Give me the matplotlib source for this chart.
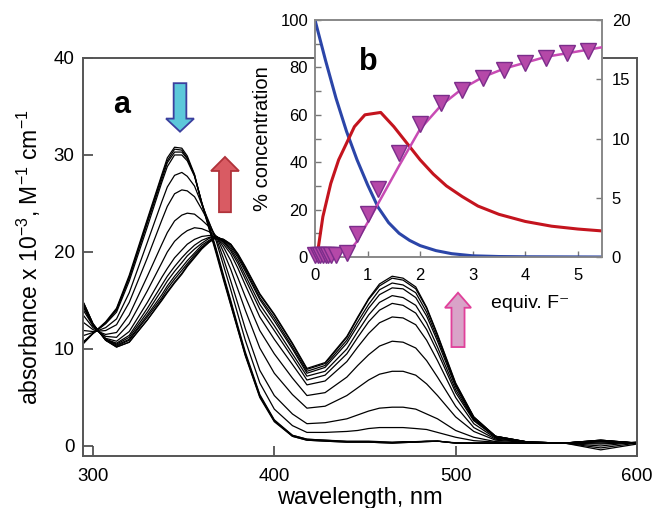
import matplotlib.pyplot as plt
from matplotlib.patches import FancyArrow
from matplotlib.ticker import MultipleLocator

plt.rcParams['font.family'] = ['Liberation Sans', 'DejaVu Sans']
plt.rcParams['mathtext.fontset'] = 'custom'
plt.rcParams['mathtext.rm'] = 'Liberation Sans'
plt.rcParams['mathtext.default'] = 'regular'

# --- main panel: titration spectra (absorbance x 1e-3) ---
wavelength = [295, 300, 307, 313, 320, 330, 338, 341, 345, 349, 352, 356, 360, 364, 368, 372,
              376, 380, 384, 392, 400, 410, 418, 428, 440, 446, 452, 458, 465, 471, 478, 484,
              490, 500, 510, 522, 540, 560, 580, 600]

spec_00 = [10.6, 11.6, 12.8, 14.2, 17.6, 23.4, 28.0, 29.7, 30.8, 30.7, 29.9, 28.0, 25.0, 22.4,
           19.8, 17.1, 14.5, 11.9, 9.3, 5.0, 2.5, 1.0, 0.6, 0.5, 0.4, 0.4, 0.4, 0.35, 0.3, 0.35,
           0.4, 0.45, 0.5, 0.3, 0.3, 0.3, 0.3, 0.3, 0.6, 0.3]
spec_01 = [10.7, 11.6, 12.7, 14.1, 17.4, 23.2, 27.8, 29.4, 30.6, 30.5, 29.7, 27.9, 25.0, 22.5,
           20.0, 17.3, 14.6, 12.0, 9.4, 5.1, 2.6, 1.0, 0.6, 0.5, 0.4, 0.4, 0.4, 0.35, 0.3, 0.35,
           0.4, 0.45, 0.5, 0.3, 0.3, 0.3, 0.3, 0.3, 0.6, 0.3]
spec_02 = [10.7, 11.6, 12.7, 14.0, 17.3, 23.0, 27.5, 29.2, 30.3, 30.3, 29.6, 27.9, 25.1, 22.6,
           20.1, 17.4, 14.8, 12.1, 9.5, 5.2, 2.6, 1.1, 0.7, 0.6, 0.45, 0.45, 0.45, 0.4, 0.35, 0.4,
           0.4, 0.5, 0.5, 0.3, 0.3, 0.3, 0.3, 0.3, 0.55, 0.3]
spec_03 = [10.8, 11.6, 12.6, 13.8, 17.0, 22.6, 27.2, 28.8, 30.0, 30.0, 29.4, 27.8, 25.1, 22.8,
           20.3, 17.6, 15.0, 12.3, 9.7, 5.3, 2.7, 1.1, 0.7, 0.6, 0.5, 0.5, 0.5, 0.45, 0.4, 0.45,
           0.45, 0.5, 0.5, 0.33, 0.3, 0.3, 0.3, 0.3, 0.55, 0.3]
spec_04 = [11.4, 11.7, 12.2, 13.1, 15.8, 21.0, 25.2, 26.7, 27.9, 28.2, 27.8, 26.8, 24.9, 23.1,
           21.1, 18.6, 16.1, 13.5, 10.9, 6.5, 3.8, 2.1, 1.4, 1.4, 1.5, 1.6, 1.8, 1.9, 1.9, 1.9,
           1.8, 1.7, 1.4, 0.9, 0.55, 0.4, 0.3, 0.3, 0.6, 0.3]
spec_05 = [11.9, 11.8, 11.9, 12.5, 14.8, 19.4, 23.3, 24.7, 26.0, 26.4, 26.3, 25.7, 24.4, 23.0,
           21.4, 19.3, 17.0, 14.6, 12.1, 7.8, 5.2, 3.3, 2.3, 2.4, 2.8, 3.2, 3.6, 3.9, 4.0, 4.0,
           3.8, 3.3, 2.8, 1.6, 0.9, 0.45, 0.3, 0.3, 0.55, 0.3]
spec_06 = [12.7, 12.0, 11.5, 11.7, 13.5, 17.5, 20.8, 22.0, 23.2, 23.8, 24.0, 23.9, 23.3, 22.6,
           21.6, 20.0, 18.2, 16.1, 14.0, 10.1, 7.5, 5.3, 3.9, 4.1, 5.2, 6.0, 6.8, 7.4, 7.7, 7.7,
           7.3, 6.4, 5.2, 3.0, 1.5, 0.6, 0.35, 0.3, 0.5, 0.3]
spec_07 = [13.4, 12.2, 11.3, 11.2, 12.6, 16.0, 18.9, 20.0, 21.1, 21.8, 22.2, 22.5, 22.4, 22.1,
           21.6, 20.5, 19.1, 17.3, 15.4, 11.9, 9.5, 7.0, 5.2, 5.5, 7.1, 8.3, 9.4, 10.3, 10.8, 10.7,
           10.1, 8.8, 7.1, 4.1, 1.9, 0.7, 0.4, 0.3, 0.5, 0.3]
spec_08 = [13.9, 12.4, 11.1, 10.8, 11.8, 14.8, 17.4, 18.3, 19.4, 20.2, 20.8, 21.3, 21.6, 21.7,
           21.6, 20.8, 19.8, 18.3, 16.6, 13.3, 11.0, 8.4, 6.3, 6.7, 8.7, 10.2, 11.6, 12.7, 13.3, 13.2,
           12.5, 10.9, 8.8, 5.0, 2.3, 0.8, 0.4, 0.3, 0.5, 0.3]
spec_09 = [14.2, 12.4, 11.0, 10.6, 11.4, 14.2, 16.6, 17.5, 18.5, 19.4, 20.0, 20.7, 21.2, 21.5,
           21.6, 21.0, 20.1, 18.8, 17.2, 14.1, 11.9, 9.1, 6.8, 7.3, 9.5, 11.2, 12.8, 14.0, 14.7, 14.5,
           13.7, 12.0, 9.7, 5.5, 2.6, 0.9, 0.4, 0.3, 0.4, 0.3]
spec_10 = [14.3, 12.5, 11.0, 10.5, 11.2, 13.8, 16.1, 17.0, 18.0, 18.9, 19.6, 20.3, 20.9, 21.4,
           21.6, 21.1, 20.3, 19.1, 17.6, 14.6, 12.4, 9.5, 7.2, 7.7, 10.0, 11.8, 13.5, 14.8, 15.5, 15.3,
           14.5, 12.7, 10.2, 5.8, 2.7, 0.9, 0.4, 0.3, 0.3, 0.3]
spec_11 = [14.5, 12.5, 11.0, 10.4, 11.0, 13.5, 15.6, 16.5, 17.5, 18.4, 19.1, 19.9, 20.7, 21.2,
           21.6, 21.2, 20.5, 19.4, 18.0, 15.1, 12.9, 10.0, 7.5, 8.1, 10.6, 12.4, 14.2, 15.6, 16.3, 16.2,
           15.3, 13.4, 10.8, 6.1, 2.8, 1.0, 0.4, 0.3, 0.2, 0.4]
spec_12 = [14.6, 12.6, 10.9, 10.3, 10.9, 13.3, 15.3, 16.2, 17.2, 18.1, 18.8, 19.7, 20.5, 21.1,
           21.6, 21.2, 20.7, 19.6, 18.2, 15.3, 13.2, 10.2, 7.7, 8.3, 10.9, 12.8, 14.6, 16.1, 16.8, 16.6,
           15.8, 13.8, 11.1, 6.3, 2.9, 1.0, 0.4, 0.3, 0.0, 0.4]
spec_13 = [14.7, 12.6, 10.9, 10.2, 10.7, 13.0, 15.1, 15.9, 16.9, 17.8, 18.6, 19.5, 20.4, 21.0,
           21.5, 21.3, 20.8, 19.7, 18.4, 15.6, 13.5, 10.5, 7.9, 8.5, 11.2, 13.2, 15.1, 16.5, 17.3, 17.1,
           16.2, 14.2, 11.4, 6.4, 3.0, 1.0, 0.4, 0.3, -0.2, 0.3]
spec_14 = [14.7, 12.6, 10.9, 10.2, 10.7, 13.0, 15.0, 15.8, 16.8, 17.7, 18.5, 19.4, 20.3, 21.0,
           21.5, 21.3, 20.8, 19.8, 18.5, 15.7, 13.6, 10.6, 8.0, 8.6, 11.3, 13.3, 15.2, 16.7, 17.5, 17.3,
           16.4, 14.3, 11.5, 6.5, 3.0, 1.0, 0.4, 0.3, -0.4, 0.2]

spectra = [spec_00, spec_01, spec_02, spec_03, spec_04, spec_05, spec_06, spec_07,
           spec_08, spec_09, spec_10, spec_11, spec_12, spec_13, spec_14]

# --- inset: species distribution and absorbance at 465 nm ---
blue_eq = [0, 0.2, 0.4, 0.6, 0.8, 1.0, 1.2, 1.4, 1.6, 1.8, 2.0, 2.3, 2.6, 3.0, 3.5, 4.0, 5.46]
blue_pct = [100, 83, 67, 53, 41, 30.5, 21, 14.5, 10, 7, 4.8, 2.7, 1.4, 0.5, 0.2, 0.1, 0]

red_eq = [0.05, 0.15, 0.3, 0.45, 0.6, 0.75, 0.95, 1.25, 1.5, 1.75, 2.0, 2.25, 2.5, 2.8,
          3.1, 3.5, 4.0, 4.5, 5.0, 5.46]
red_pct = [2, 17, 31, 41, 48, 55, 60, 61, 55, 48, 41, 35, 30, 25.5, 21.5, 18, 15, 13, 11.8, 11]

fit_eq = [0.55, 0.78, 1.0, 1.2, 1.6, 2.0, 2.4, 2.8, 3.2, 3.6, 4.0, 4.4, 4.8, 5.2, 5.46]
fit_abs = [0, 1.2, 2.9, 4.5, 7.7, 10.8, 12.8, 14.2, 15.2, 15.9, 16.4, 16.9, 17.2, 17.5, 17.7]

pts_eq = [0, 0.05, 0.1, 0.15, 0.2, 0.25, 0.3, 0.4, 0.6, 0.8, 1.0, 1.2, 1.6, 2.0, 2.4, 2.8,
          3.2, 3.6, 4.0, 4.4, 4.8, 5.2]
pts_abs = [0.15, 0.15, 0.15, 0.15, 0.15, 0.15, 0.15, 0.2, 0.35, 1.9, 3.6, 5.7, 8.8, 11.2,
           13.0, 14.1, 15.1, 15.8, 16.4, 16.8, 17.2, 17.4]

fig = plt.figure(figsize=(6.55, 5.08), dpi=100)

ax = fig.add_axes([0.1267, 0.1024, 0.8458, 0.7835])
for s in spectra:
    ax.plot(wavelength, s, color='black', linewidth=0.9)
ax.set_xlim(294.5, 600)
ax.set_ylim(-1.03, 40)
ax.set_xticks([300, 400, 500, 600])
ax.set_yticks([0, 10, 20, 30, 40])
ax.tick_params(direction='in', length=7, width=1.2, labelsize=13.5, colors='#444444',
               labelcolor='black')
ax.tick_params(axis='x', pad=9)
ax.tick_params(axis='y', pad=6)
for sp in ax.spines.values():
    sp.set_color('#555555')
    sp.set_linewidth(1.4)
ax.set_xlabel('wavelength, nm', fontsize=17, labelpad=1)
ax.set_ylabel(r'absorbance x 10$^{-3}$, M$^{-1}$ cm$^{-1}$', fontsize=16.5, labelpad=8)
ax.text(316, 35.2, 'a', fontsize=22, fontweight='bold', ha='center', va='center')

# arrows
ax.add_patch(FancyArrow(348, 37.4, 0, -5.0, width=7.0, head_width=15.4, head_length=1.35,
                        length_includes_head=True, facecolor='#5CC8DA', edgecolor='#3B3F9E',
                        linewidth=1.3, zorder=5))
ax.add_patch(FancyArrow(372.8, 24.1, 0, 5.7, width=6.6, head_width=15.4, head_length=1.45,
                        length_includes_head=True, facecolor='#D95B63', edgecolor='#B0323A',
                        linewidth=1.3, zorder=5))
ax.add_patch(FancyArrow(501.3, 10.2, 0, 5.6, width=7.2, head_width=14.4, head_length=1.55,
                        length_includes_head=True, facecolor='#D9A3C8', edgecolor='#E0409A',
                        linewidth=1.3, zorder=5))

# inset
axi = fig.add_axes([0.4809, 0.4941, 0.4382, 0.4665])
axi.set_facecolor('white')
axi.plot(blue_eq, blue_pct, color='#2B45A8', linewidth=2.2, zorder=3)
axi.plot(red_eq, red_pct, color='#C4141E', linewidth=2.2, zorder=3)
axi.set_xlim(0, 5.46)
axi.set_ylim(0, 100)
axi.set_xticks([0, 1, 2, 3, 4, 5])
axi.set_yticks([0, 20, 40, 60, 80, 100])
axi.yaxis.set_minor_locator(MultipleLocator(10))
axi.tick_params(which='both', direction='in', length=4.5, width=1.0, labelsize=12,
                colors='#777777', labelcolor='black')
axi.tick_params(axis='x', pad=8)
axi.tick_params(axis='y', pad=5)
axi.set_ylabel('% concentration', fontsize=14.5, labelpad=6)
axi.text(0.75, -0.195, 'equiv. F\u207b', transform=axi.transAxes, fontsize=14,
         ha='center', va='center')
axi.text(0.185, 0.823, 'b', transform=axi.transAxes, fontsize=22, fontweight='bold',
         ha='center', va='center')

axr = axi.twinx()
axr.plot(fit_eq, fit_abs, color='#C84BB4', linewidth=1.8, zorder=3)
axr.plot(pts_eq, pts_abs, linestyle='none', marker='v', markersize=11,
         markerfacecolor='#B548A8', markeredgecolor='#7B2D8B', markeredgewidth=1.0,
         clip_on=False, zorder=4)
axr.set_ylim(0, 20)
axr.set_yticks([0, 5, 10, 15, 20])
axr.tick_params(direction='in', length=4.5, width=1.0, labelsize=12, colors='#777777',
                labelcolor='black', pad=7)
for a in (axi, axr):
    for sp in a.spines.values():
        sp.set_color('#888888')
        sp.set_linewidth(1.2)

fig.savefig('out.png', dpi=100)
